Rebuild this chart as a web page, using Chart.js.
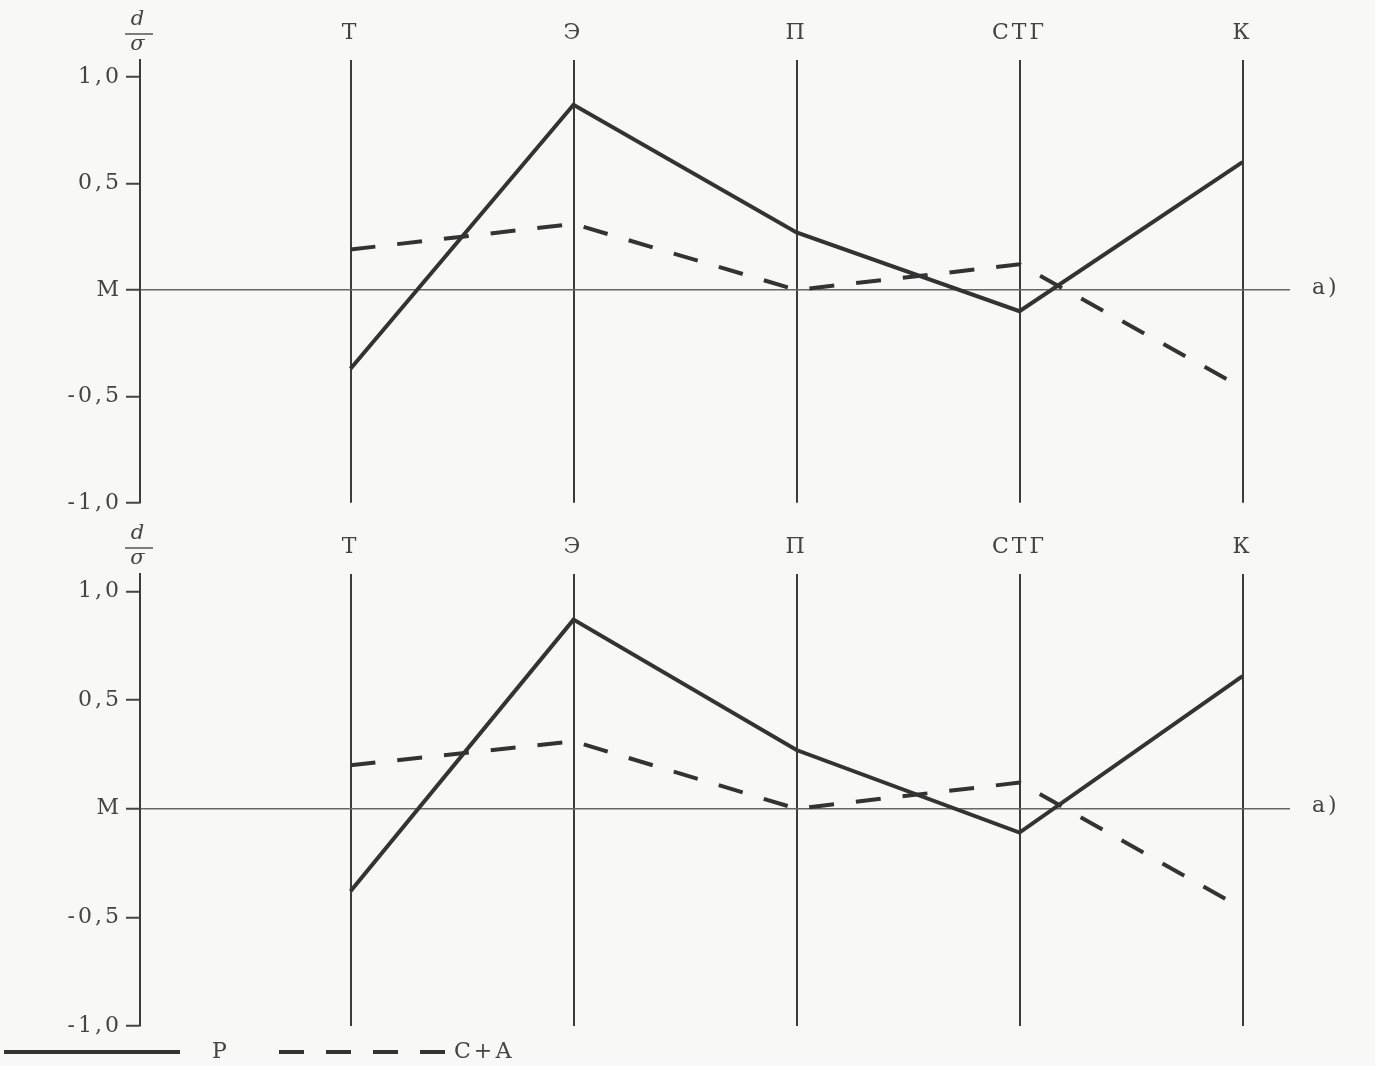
<!DOCTYPE html>
<html>
<head>
<meta charset="utf-8">
<script src="https://cdn.jsdelivr.net/npm/chart.js@4.4.1/dist/chart.umd.min.js"></script>
<style>
  html, body { margin: 0; padding: 0; background: #f8f8f7; }
  body { width: 1375px; height: 1066px; position: relative; overflow: hidden; }
  canvas { position: absolute; left: 0; }
  #chartA { top: 0; }
  #chartB { top: 514px; }
</style>
</head>
<body>
<canvas id="chartA" width="1375" height="520"></canvas>
<canvas id="chartB" width="1375" height="552"></canvas>
<script>
const categories = ['Т', 'Э', 'П', 'СТГ', 'К'];
const yTickValues = [-1, -0.5, 0, 0.5, 1];
const yTickLabels = ['-1,0', '-0,5', 'М', '0,5', '1,0'];
const seriesNames = ['Р', 'С+А'];

// верхняя панель
const topP = [-0.37, 0.87, 0.27, -0.10, 0.60];
const topCA = [0.19, 0.31, 0.00, 0.12, -0.46];
// нижняя панель
const bottomP = [-0.38, 0.87, 0.27, -0.11, 0.61];
const bottomCA = [0.20, 0.31, 0.00, 0.12, -0.46];

const INK = '#333';
const TEXT = '#444';
const FONT = "'DejaVu Serif', 'Liberation Serif', serif";

// подписи d/σ и а)
const annotations = {
  id: 'annotations',
  afterDraw(chart) {
    const ctx = chart.ctx;
    ctx.save();
    ctx.fillStyle = TEXT;
    ctx.strokeStyle = '#555';
    ctx.textAlign = 'center';
    ctx.textBaseline = 'middle';
    ctx.font = 'italic 21px ' + FONT;
    ctx.fillText('d', 139, 20);
    ctx.lineWidth = 1.5;
    ctx.beginPath();
    ctx.moveTo(125, 34);
    ctx.lineTo(153, 34);
    ctx.stroke();
    ctx.fillText('σ', 139, 45);
    ctx.font = '22px ' + FONT;
    ctx.textAlign = 'left';
    ctx.fillText('а)', chart.chartArea.right + 22, chart.scales.y.getPixelForValue(0) - 2);
    ctx.restore();
  }
};

// легенда внизу страницы
const legendRow = {
  id: 'legendRow',
  afterDraw(chart) {
    const ctx = chart.ctx;
    const y = chart.height - 14;
    const spots = [{x0: 4, x1: 180, tx: 212}, {x0: 279, x1: 452, tx: 454}];
    ctx.save();
    chart.data.datasets.forEach((ds, i) => {
      const s = spots[i];
      ctx.strokeStyle = ds.borderColor;
      ctx.lineWidth = ds.borderWidth;
      ctx.setLineDash(ds.borderDash || []);
      ctx.beginPath();
      ctx.moveTo(s.x0, y);
      ctx.lineTo(s.x1, y);
      ctx.stroke();
      ctx.fillStyle = TEXT;
      ctx.font = '22px ' + FONT;
      ctx.textAlign = 'left';
      ctx.textBaseline = 'middle';
      ctx.fillText(ds.label, s.tx, y);
    });
    ctx.restore();
  }
};

const spacing = { id: 'spacing', beforeDraw: (chart) => { chart.ctx.letterSpacing = '3px'; } };

const makeChart = (canvasId, p, ca, bottomPad, extra) => new Chart(document.getElementById(canvasId), {
  type: 'line',
  data: {
    datasets: [{
      label: seriesNames[0],
      data: p.map((v, i) => ({x: i, y: v})),
      borderColor: INK,
      borderWidth: 4,
      pointRadius: 0,
      tension: 0,
      fill: false
    }, {
      label: seriesNames[1],
      data: ca.map((v, i) => ({x: i, y: v})),
      borderColor: INK,
      borderWidth: 4,
      borderDash: [25, 22],
      pointRadius: 0,
      tension: 0,
      fill: false
    }]
  },
  options: {
    responsive: false,
    animation: false,
    layout: { padding: { left: 0, right: 85, top: 0, bottom: bottomPad } },
    plugins: { legend: { display: false }, tooltip: { enabled: false } },
    scales: {
      x: {
        type: 'linear',
        position: 'top',
        min: -0.944,
        max: 4.213,
        afterBuildTicks: (scale) => { scale.ticks = categories.map((c, i) => ({value: i})); },
        afterFit: (scale) => { scale.height = 60; },
        ticks: {
          callback: (value) => categories[value],
          color: TEXT,
          font: { family: FONT, size: 22 },
          padding: 14,
          maxRotation: 0
        },
        grid: { color: '#3c3c3c', lineWidth: 2, drawTicks: false },
        border: { display: false }
      },
      y: {
        min: -1,
        max: 1.08,
        afterBuildTicks: (scale) => { scale.ticks = yTickValues.map(v => ({value: v})); },
        afterFit: (scale) => { scale.width = 140; },
        ticks: {
          callback: (value) => yTickLabels[yTickValues.indexOf(value)],
          color: TEXT,
          font: { family: FONT, size: 22 },
          padding: 4
        },
        grid: {
          color: (c) => (c.tick && c.tick.value === 0 ? '#666' : 'rgba(0,0,0,0)'),
          lineWidth: 1.5,
          tickColor: '#444',
          tickWidth: 2,
          tickLength: 14
        },
        border: { display: true, color: '#3c3c3c', width: 2 }
      }
    }
  },
  plugins: [spacing, annotations].concat(extra)
});

makeChart('chartA', topP, topCA, 8, []);
makeChart('chartB', bottomP, bottomCA, 40, [legendRow]);
</script>
</body>
</html>
